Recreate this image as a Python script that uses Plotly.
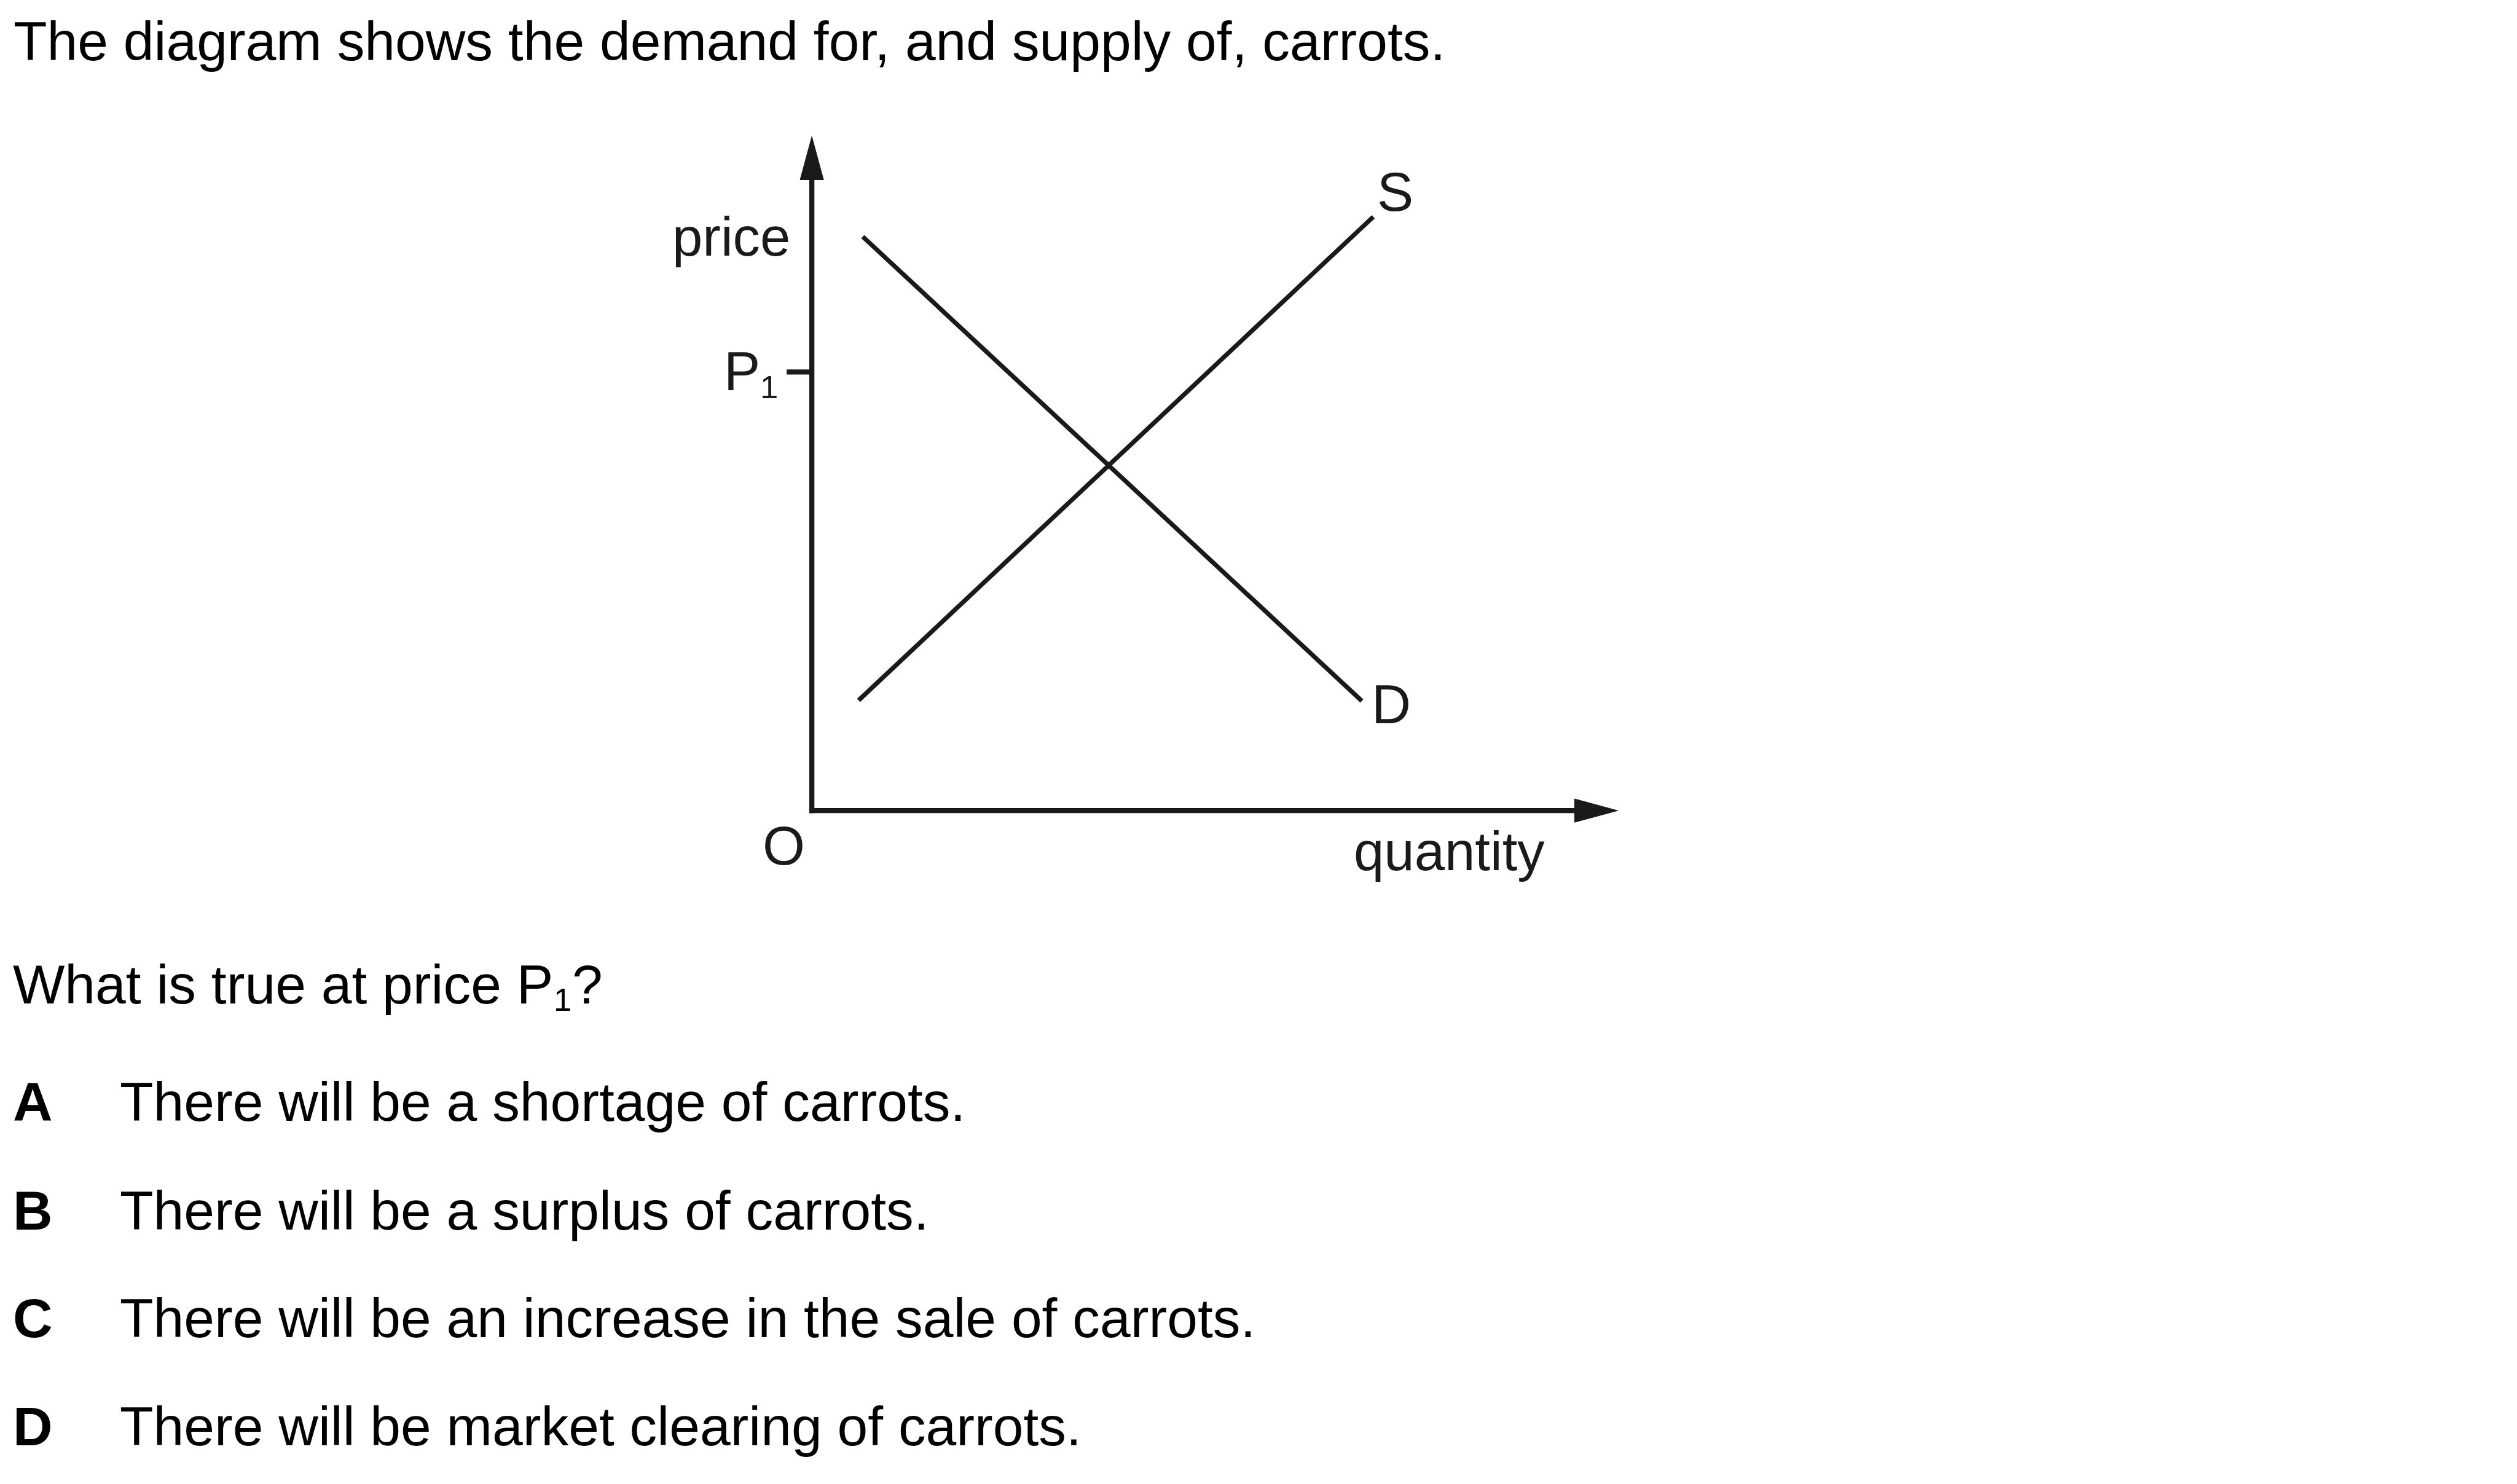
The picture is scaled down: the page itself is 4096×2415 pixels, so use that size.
import plotly.graph_objects as go

# ---------------- data (quantity / price units, origin at O) ----------------
supply_q = [0.78, 9.37]
supply_p = [1.84, 9.91]
demand_q = [0.85, 9.18]
demand_p = [9.58, 1.83]
p1_price = 7.32
axis_q_max = 13.45
axis_p_max = 11.25

title_text = "The diagram shows the demand for, and supply of, carrots."
question_parts = ["What is true at price P", "1", "?"]
option_letters = ["A", "B", "C", "D"]
option_texts = [
    "There will be a shortage of carrots.",
    "There will be a surplus of carrots.",
    "There will be an increase in the sale of carrots.",
    "There will be market clearing of carrots.",
]
curve_labels = ["S", "D"]
axis_labels = ["price", "quantity", "O"]
p1_label = ["P", "1"]

# ---------------- geometry / style ----------------
REF_W, REF_H = 4201, 2477
SC = 0.975
W, H = 4096, 2415
OX, OY, UNIT = 1355, 1353, 100.0      # origin position in reference pixels, px per unit
FONT = "Liberation Sans, Arial, Helvetica, sans-serif"
INK = "#1a1a1a"
ASC = 0.905

x_range = [(0 - OX) / UNIT, (REF_W - OX) / UNIT]
y_range = [(OY - REF_H) / UNIT, OY / UNIT]

fig = go.Figure()

# supply and demand curves
curve_w = 7.5 * SC
fig.add_trace(go.Scatter(x=supply_q, y=supply_p, mode="lines",
                         line=dict(color=INK, width=curve_w), hoverinfo="skip", name="S"))
fig.add_trace(go.Scatter(x=demand_q, y=demand_p, mode="lines",
                         line=dict(color=INK, width=curve_w), hoverinfo="skip", name="D"))

# axes with arrowheads
arrow_len = 0.72
arrow_hw = 0.195
axis_w = 8.5 * SC
half = 0.043
shapes = [
    dict(type="line", xref="x", yref="y", x0=0, y0=-half, x1=0, y1=axis_p_max - arrow_len,
         line=dict(color=INK, width=axis_w)),
    dict(type="line", xref="x", yref="y", x0=-half, y0=0, x1=axis_q_max - arrow_len, y1=0,
         line=dict(color=INK, width=axis_w)),
    dict(type="path", xref="x", yref="y",
         path=f"M {-arrow_hw},{axis_p_max - arrow_len} L {arrow_hw},{axis_p_max - arrow_len} L 0,{axis_p_max} Z",
         fillcolor=INK, line=dict(color=INK, width=1)),
    dict(type="path", xref="x", yref="y",
         path=f"M {axis_q_max - arrow_len},{-arrow_hw} L {axis_q_max - arrow_len},{arrow_hw} L {axis_q_max},0 Z",
         fillcolor=INK, line=dict(color=INK, width=1)),
    # P1 tick
    dict(type="line", xref="x", yref="y", x0=-0.42, y0=p1_price, x1=0, y1=p1_price,
         line=dict(color=INK, width=axis_w)),
]

annotations = []


def text_at(text, x_ref, baseline_ref, size_ref, xanchor="left", color="black", weight="normal"):
    top_ref = baseline_ref - ASC * size_ref
    annotations.append(dict(
        text=text, xref="paper", yref="paper",
        x=x_ref / REF_W, y=1 - top_ref / REF_H,
        xanchor=xanchor, yanchor="top", showarrow=False,
        borderpad=0, borderwidth=0,
        font=dict(family=FONT, size=size_ref * SC, color=color, weight=weight),
    ))


FS = 91.7
SUB = 54
text_at(title_text, 23, 100, FS)
# question with subscript
text_at(question_parts[0], 22, 1675, FS)
text_at(question_parts[1], 924, 1687, SUB)
text_at(question_parts[2], 955, 1675, FS)

baselines = [1871, 2052, 2232, 2412]
for letter, txt, b in zip(option_letters, option_texts, baselines):
    text_at(letter, 22, b, FS, weight="bold")
    text_at(txt, 200, b, FS)

# diagram labels
LS = 91
text_at(axis_labels[0], 1319, 427, LS, xanchor="right", color=INK)
text_at(axis_labels[1], 2259, 1453, LS, color=INK)
text_at(axis_labels[2], 1308, 1443, LS, xanchor="center", color=INK)
text_at(p1_label[0], 1208, 652, LS, color=INK)
text_at(p1_label[1], 1269, 664, SUB, color=INK)
text_at(curve_labels[0], 2329, 352, LS, xanchor="center", color=INK)
text_at(curve_labels[1], 2289, 1208, LS, color=INK)

fig.update_layout(
    width=W, height=H, autosize=False,
    margin=dict(l=0, r=0, t=0, b=0, pad=0),
    paper_bgcolor="white", plot_bgcolor="white",
    showlegend=False,
    xaxis=dict(range=x_range, visible=False, fixedrange=True),
    yaxis=dict(range=y_range, visible=False, fixedrange=True),
    shapes=shapes, annotations=annotations,
)

fig.write_html("out.html", config={"displayModeBar": False, "staticPlot": True},
               post_script="document.body.style.margin='0';")
